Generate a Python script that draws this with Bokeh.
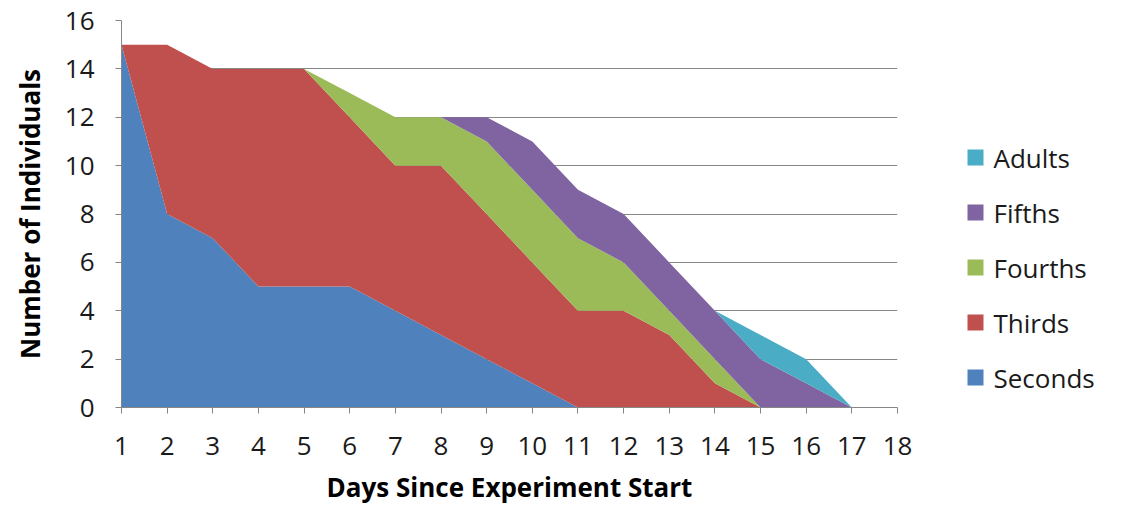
from bokeh.plotting import figure
from bokeh.models import ColumnDataSource, Range1d, FixedTicker
from bokeh.core.properties import value
from bokeh.layouts import row
from bokeh.embed import file_html
from bokeh.resources import INLINE

days = list(range(1, 19))
seconds = [15, 8, 7, 5, 5, 5, 4, 3, 2, 1, 0, 0, 0, 0, 0, 0, 0, 0]
thirds = [0, 7, 7, 9, 9, 7, 6, 7, 6, 5, 4, 4, 3, 1, 0, 0, 0, 0]
fourths = [0, 0, 0, 0, 0, 1, 2, 2, 3, 3, 3, 2, 1, 1, 0, 0, 0, 0]
fifths = [0, 0, 0, 0, 0, 0, 0, 0, 1, 2, 2, 2, 2, 2, 2, 1, 0, 0]
adults = [0, 0, 0, 0, 0, 0, 0, 0, 0, 0, 0, 0, 0, 0, 1, 1, 0, 0]

series_names = ["Seconds", "Thirds", "Fourths", "Fifths", "Adults"]
colors = ["#4F81BD", "#C0504D", "#9BBB59", "#8064A2", "#4BACC6"]
y_ticks = [0, 2, 4, 6, 8, 10, 12, 14, 16]

source = ColumnDataSource(dict(day=days, Seconds=seconds, Thirds=thirds,
                               Fourths=fourths, Fifths=fifths, Adults=adults))

FONT = "Open Sans"
W_MAIN = 930
W_TOTAL = 1121
H = 509
FRAME_TOP = 20
FRAME_BOTTOM = 407
p = figure(width=W_MAIN, height=H, output_backend="svg", toolbar_location=None,
           x_range=Range1d(1, 18), y_range=Range1d(0, 16),
           min_border_left=121, min_border_right=W_MAIN - 897, min_border_top=FRAME_TOP,
           min_border_bottom=H - FRAME_BOTTOM)
p.outline_line_color = None
p.background_fill_color = "white"

p.varea_stack(stackers=series_names, x="day", color=colors, source=source)

p.xgrid.visible = False
p.ygrid.grid_line_color = "#878787"
p.ygrid.grid_line_width = 1
p.ygrid.level = "underlay"

p.xaxis.ticker = FixedTicker(ticks=days)
p.yaxis.ticker = FixedTicker(ticks=y_ticks)
for ax in (p.xaxis[0], p.yaxis[0]):
    ax.axis_line_color = "#868686"
    ax.major_tick_line_color = "#868686"
    ax.major_tick_out = 6
    ax.major_tick_in = 0
    ax.minor_tick_line_color = None
    ax.major_label_text_font = FONT
    ax.major_label_text_font_size = "26px"
    ax.major_label_text_color = "#1a1a1a"
    ax.axis_label_text_font = FONT
    ax.axis_label_text_font_style = "bold"
    ax.axis_label_text_font_size = "26px"
    ax.axis_label_text_color = "#000000"
p.xaxis.major_label_standoff = 23
p.yaxis.major_label_standoff = 21
p.xaxis.axis_label = "Days Since Experiment Start"
p.yaxis.axis_label = "Number of Individuals"
p.xaxis.axis_label_standoff = 11
p.yaxis.axis_label_standoff = 14

# legend panel: its frame is aligned with the main frame (y from 20 to 407 on the page)
W_LEG = W_TOTAL - W_MAIN
q = figure(width=W_LEG, height=H, output_backend="svg", toolbar_location=None,
           x_range=Range1d(0, W_LEG), y_range=Range1d(FRAME_BOTTOM, FRAME_TOP),
           x_axis_location=None, y_axis_location=None,
           min_border_left=0, min_border_right=0, min_border_top=FRAME_TOP,
           min_border_bottom=H - FRAME_BOTTOM)
q.grid.visible = False
q.outline_line_color = None

leg_names = series_names[::-1]
leg_colors = colors[::-1]
leg_y = [157 + 55 * i for i in range(len(leg_names))]
leg_src = ColumnDataSource(dict(name=leg_names, color=leg_colors, y=leg_y,
                                xs=[45] * len(leg_names), xt=[63] * len(leg_names)))
q.rect(x="xs", y="y", width=16, height=16, width_units="screen", height_units="screen",
       fill_color="color", line_color=None, source=leg_src)
q.text(x="xt", y="y", text="name", text_font=value(FONT), text_font_size="26px",
       text_color="#1a1a1a", text_baseline="middle", text_align="left", source=leg_src)

layout = row(p, q, spacing=0)
open("out.html", "w").write(file_html(layout, INLINE))
